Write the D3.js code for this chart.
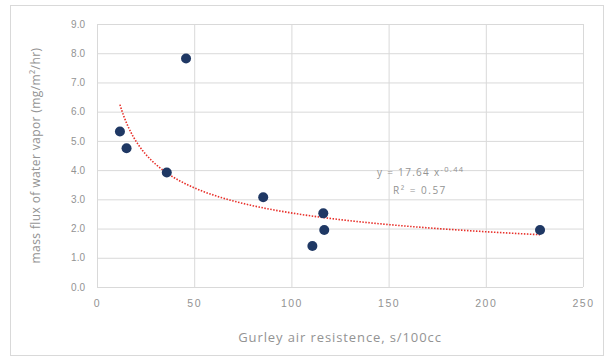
<!DOCTYPE html>
<html>
<head>
<meta charset="utf-8">
<script src="https://cdn.jsdelivr.net/npm/d3@7"></script>
<style>
  body { margin: 0; background: #fff; }
  svg { display: block; font-family: "Open Sans", sans-serif; }
</style>
</head>
<body>
<svg id="chart" width="614" height="359"></svg>
<script>
// gurley air resistance (s/100cc) vs mass flux of water vapor
const gurley = [11.8, 15.2, 35.9, 45.8, 85.5, 110.8, 116.4, 116.9, 227.9];
const flux = [5.32, 4.75, 3.92, 7.82, 3.07, 1.40, 2.52, 1.95, 1.95];
const xTicks = [0, 50, 100, 150, 200, 250];
const yTicks = [0, 1, 2, 3, 4, 5, 6, 7, 8, 9];
const eqLabel = "y = 17.64 x";
const eqExp = "-0.44";
const r2Label = "R² = 0.57";

const svg = d3.select("#chart");
const plot = { left: 97, right: 583, top: 24, bottom: 287 };
const textColor = "#939393";

// chart frame
svg.append("rect")
  .attr("x", 10.5).attr("y", 5.5)
  .attr("width", 593).attr("height", 350)
  .attr("fill", "#fff")
  .attr("stroke", "#d9d9d9");

const x = d3.scaleLinear().domain([0, 250]).range([plot.left, plot.right]);
const y = d3.scaleLinear().domain([0, 9]).range([plot.bottom, plot.top]);

// gridlines + tick labels
svg.append("g")
  .attr("transform", "translate(0," + plot.bottom + ")")
  .call(d3.axisBottom(x).tickValues(xTicks).tickSize(-(plot.bottom - plot.top)).tickFormat(d => d))
  .call(g => g.select(".domain").remove())
  .call(g => g.selectAll("line").attr("stroke", "#d9d9d9"))
  .call(g => g.selectAll("text").attr("fill", textColor).attr("font-size", 10.5)
    .attr("letter-spacing", 1.5).attr("dy", "1.6em"));

svg.append("g")
  .attr("transform", "translate(" + plot.left + ",0)")
  .call(d3.axisLeft(y).tickValues(yTicks).tickSize(-(plot.right - plot.left)).tickFormat(d3.format(".1f")))
  .call(g => g.select(".domain").remove())
  .call(g => g.selectAll("line").attr("stroke", "#d9d9d9"))
  .call(g => g.selectAll("text").attr("fill", textColor).attr("font-size", 10).attr("x", -12));

// power trendline fitted on log-log data
const lx = gurley.map(Math.log), ly = flux.map(Math.log);
const mx = d3.mean(lx), my = d3.mean(ly);
const b = d3.sum(lx, (v, i) => (v - mx) * (ly[i] - my)) / d3.sum(lx, v => (v - mx) * (v - mx));
const a = Math.exp(my - b * mx);
const [x0, x1] = d3.extent(gurley);
const trend = d3.range(0, 101).map(i => {
  const xv = x0 * Math.pow(x1 / x0, i / 100);
  return [xv, a * Math.pow(xv, b)];
});
svg.append("path")
  .datum(trend)
  .attr("fill", "none")
  .attr("stroke", "#e8302a")
  .attr("stroke-width", 1.6)
  .attr("stroke-dasharray", "1.5,1.5")
  .attr("d", d3.line().x(d => x(d[0])).y(d => y(d[1])));

// points
svg.append("g").selectAll("circle")
  .data(gurley)
  .enter()
  .append("circle")
  .attr("cx", d => x(d))
  .attr("cy", (d, i) => y(flux[i]))
  .attr("r", 5)
  .attr("fill", "#1f3864");

// trendline labels
const eq = svg.append("text")
  .attr("x", 377).attr("y", 176)
  .attr("fill", textColor).attr("font-size", 10).attr("letter-spacing", 1.3);
eq.append("tspan").text(eqLabel);
eq.append("tspan").attr("dy", -4).attr("font-size", 7.5).text(eqExp);
svg.append("text")
  .attr("x", 393).attr("y", 194)
  .attr("fill", textColor).attr("font-size", 10).attr("letter-spacing", 1.5)
  .text(r2Label);

// axis titles
svg.append("text")
  .attr("x", (plot.left + plot.right) / 2).attr("y", 342)
  .attr("text-anchor", "middle")
  .attr("fill", textColor).attr("font-size", 13).attr("letter-spacing", 0.9)
  .text("Gurley air resistence, s/100cc");

svg.append("text")
  .attr("transform", "translate(40," + (plot.top + plot.bottom) / 2 + ") rotate(-90)")
  .attr("text-anchor", "middle")
  .attr("fill", textColor).attr("font-size", 12).attr("letter-spacing", 0.4)
  .text("mass flux of water vapor (mg/m²/hr)");
</script>
</body>
</html>
